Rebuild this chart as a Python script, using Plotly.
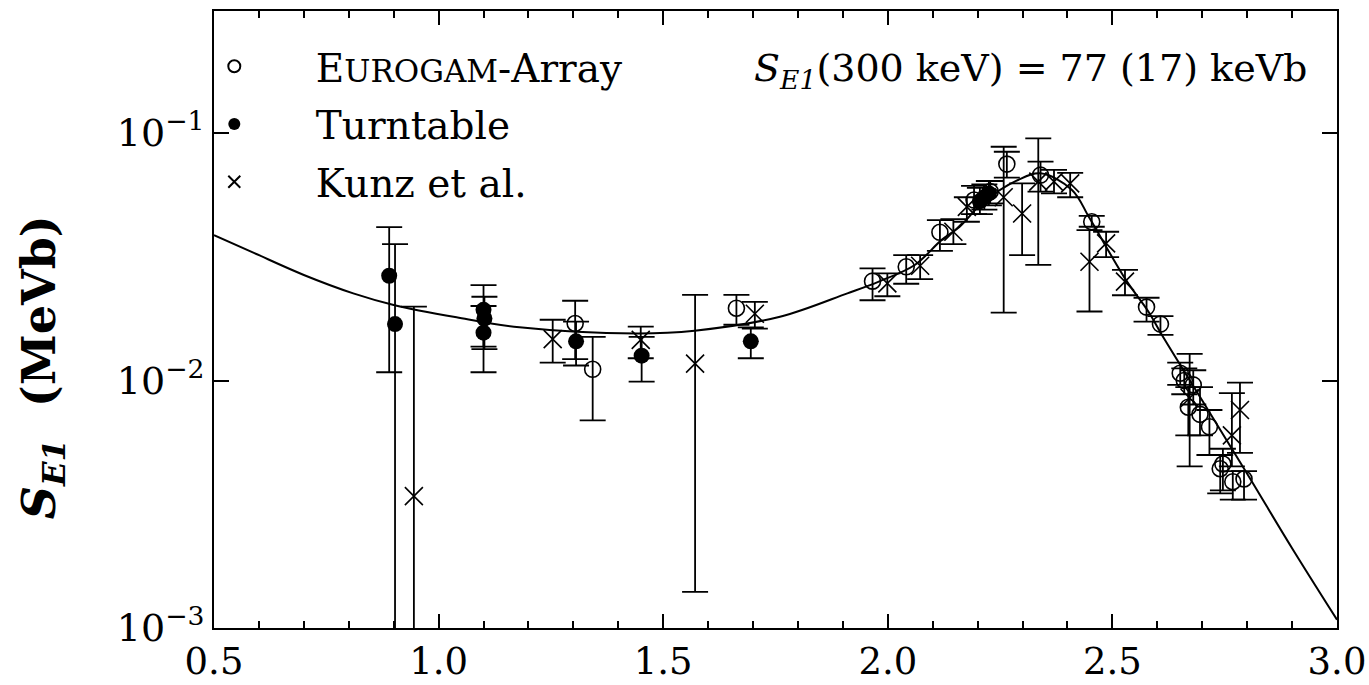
import plotly.graph_objects as go

# ---------------- data ----------------
# Eurogam-Array (open circles)
eur_x = [1.304, 1.343, 1.663, 1.966, 2.041, 2.116, 2.192, 2.228, 2.265, 2.340, 2.454, 2.576,
         2.607, 2.651, 2.660, 2.669, 2.680, 2.695, 2.716, 2.740, 2.746, 2.768, 2.793]
eur_y = [0.0170, 0.0111, 0.0196, 0.0252, 0.0288, 0.0397, 0.0536, 0.0580, 0.0749, 0.0676, 0.0438, 0.0198,
         0.0169, 0.0107, 0.0100, 0.0078, 0.0096, 0.0073, 0.0065, 0.0044, 0.0046, 0.0039, 0.0040]
eur_hi = [0.0210, 0.0150, 0.0222, 0.0284, 0.0321, 0.0445, 0.0611, 0.0640, 0.0840, 0.0766, 0.0463, 0.0216,
          0.0182, 0.0118, 0.0112, 0.0094, 0.0110, 0.0094, 0.0076, 0.0050, 0.0053, 0.0043, 0.0043]
eur_lo = [0.0122, 0.0069, 0.0168, 0.0211, 0.0246, 0.0334, 0.0470, 0.0520, 0.0660, 0.0580, 0.0418, 0.0173,
          0.0153, 0.0096, 0.0088, 0.0060, 0.0080, 0.0060, 0.0050, 0.0035, 0.0036, 0.0033, 0.0033]

# Turntable (filled circles)
tt_x = [0.890, 0.903, 1.100, 1.102, 1.100, 1.306, 1.452, 1.695, 2.205, 2.215, 2.225]
tt_y = [0.0265, 0.0169, 0.0193, 0.0178, 0.0156, 0.0144, 0.0126, 0.0144, 0.0530, 0.0550, 0.0570]
tt_hi = [0.0417, 0.0356, 0.0243, 0.0218, 0.0200, 0.0173, 0.0150, 0.0164, 0.0600, 0.0620, 0.0640]
tt_lo = [0.0108, 0.0, 0.0137, 0.0134, 0.0108, 0.0115, 0.0099, 0.0123, 0.0470, 0.0490, 0.0510]

# Kunz et al. (crosses)
kz_x = [0.945, 1.254, 1.450, 1.571, 1.704, 1.999, 2.072, 2.146, 2.176, 2.258, 2.299, 2.335,
        2.370, 2.406, 2.449, 2.486, 2.528, 2.672, 2.766, 2.784]
kz_y = [0.00341, 0.0147, 0.0146, 0.0117, 0.0186, 0.0247, 0.0291, 0.0399, 0.0503, 0.0550, 0.0473, 0.0636,
        0.0636, 0.0626, 0.0302, 0.0358, 0.0251, 0.0085, 0.0060, 0.0076]
kz_hi = [0.0199, 0.0176, 0.0165, 0.0222, 0.0208, 0.0271, 0.0321, 0.0449, 0.0550, 0.0880, 0.0626, 0.0952,
         0.0710, 0.0690, 0.0405, 0.0399, 0.0280, 0.0128, 0.0089, 0.0098]
kz_lo = [0.0, 0.0118, 0.0123, 0.0014, 0.0162, 0.0219, 0.0257, 0.0356, 0.0438, 0.0188, 0.0321, 0.0293,
         0.0570, 0.0550, 0.0190, 0.0315, 0.0221, 0.0045, 0.0045, 0.0051]

# fitted curve
fit_x = [0.50, 0.59, 0.70, 0.81, 0.90, 1.04, 1.18, 1.44, 1.57, 1.76, 1.91, 1.98, 2.06, 2.12, 2.16,
         2.21, 2.29, 2.34, 2.41, 2.45, 2.53, 2.58, 2.61, 2.70, 2.80, 2.90, 3.00]
fit_y = [0.0387, 0.0327, 0.0267, 0.0225, 0.0202, 0.0180, 0.0164, 0.0155, 0.0159, 0.0181, 0.0225, 0.0251,
         0.0293, 0.0370, 0.0418, 0.0520, 0.0646, 0.0687, 0.0589, 0.0450, 0.0255, 0.0190, 0.0153, 0.0083,
         0.0042, 0.0021, 0.00108]

FONT = "DejaVu Serif"
BLACK = "black"


def errs(y, hi, lo):
    plus = [h - v for v, h in zip(y, hi)]
    minus = [v - l for v, l in zip(y, lo)]
    return plus, minus


fig = go.Figure()

fig.add_trace(go.Scatter(x=fit_x, y=fit_y, mode="lines", line=dict(color=BLACK, width=2, shape="spline"),
                         showlegend=False, hoverinfo="skip"))


def add_series(name, x, y, hi, lo, marker):
    p, m = errs(y, hi, lo)
    fig.add_trace(go.Scatter(
        x=x, y=y, mode="markers", name=name, marker=marker,
        error_y=dict(type="data", array=p, arrayminus=m, symmetric=False,
                     color=BLACK, thickness=1.8, width=13),
        legendgroup=name))


add_series("E<span style='font-size:31px'>UROGAM</span>-Array", eur_x, eur_y, eur_hi, eur_lo,
           dict(symbol="circle-open", size=16, color=BLACK, line=dict(width=1.6, color=BLACK)))
add_series("Turntable", tt_x, tt_y, tt_hi, tt_lo,
           dict(symbol="circle", size=16, color=BLACK))
add_series("Kunz et al.", kz_x, kz_y, kz_hi, kz_lo,
           dict(symbol="x-thin-open", size=18, color=BLACK, line=dict(width=1.6, color=BLACK)))

fig.add_annotation(
    text="<i>S</i><sub><i>E1</i></sub>(300 keV) = 77 (17) keVb",
    xref="paper", yref="paper", x=0.975, y=0.903, xanchor="right", yanchor="middle",
    showarrow=False, font=dict(family=FONT, size=38, color=BLACK))

# y-axis title (placed as a rotated annotation to match its offset position)
fig.add_annotation(
    text="<b><i>S</i><sub><i>E1</i></sub>  (MeVb)</b>",
    xref="paper", yref="paper", x=-0.153, y=0.423, xanchor="center", yanchor="middle",
    textangle=-90, showarrow=False, font=dict(family=FONT, size=46, color=BLACK))

fig.update_layout(
    width=1369, height=685,
    margin=dict(l=214, r=32, t=11, b=57),
    paper_bgcolor="white", plot_bgcolor="white",
    font=dict(family=FONT, size=38, color=BLACK),
    showlegend=True,
    legend=dict(x=-0.0545, y=0.962, xanchor="left", yanchor="top", bgcolor="rgba(0,0,0,0)",
                font=dict(family=FONT, size=39, color=BLACK), tracegroupgap=4,
                itemsizing="constant", itemwidth=153),
    xaxis=dict(range=[0.5, 3.0], tickvals=[0.5, 1.0, 1.5, 2.0, 2.5, 3.0],
               ticktext=["0.5", "1.0", "1.5", "2.0", "2.5", "3.0"], automargin=False,
               ticks="inside", ticklen=14, tickwidth=1.7, tickcolor=BLACK,
               minor=dict(dtick=0.1, ticks="inside", ticklen=7, tickwidth=1.5, tickcolor=BLACK, showgrid=False),
               showline=True, linecolor=BLACK, linewidth=2, mirror="ticks",
               showgrid=False, zeroline=False, tickfont=dict(family=FONT, size=37)),
    yaxis=dict(type="log", range=[-3, -0.507], tickvals=[0.001, 0.01, 0.1],
               ticktext=["10<sup>−3</sup>", "10<sup>−2</sup>", "10<sup>−1</sup>"], automargin=False,
               ticks="inside", ticklen=15, tickwidth=1.7, tickcolor=BLACK,
               showline=True, linecolor=BLACK, linewidth=2, mirror="ticks",
               showgrid=False, zeroline=False, tickfont=dict(family=FONT, size=38)),
)

fig.write_html("out.html", post_script="document.body.style.margin='0';",
               config={"displayModeBar": False})
